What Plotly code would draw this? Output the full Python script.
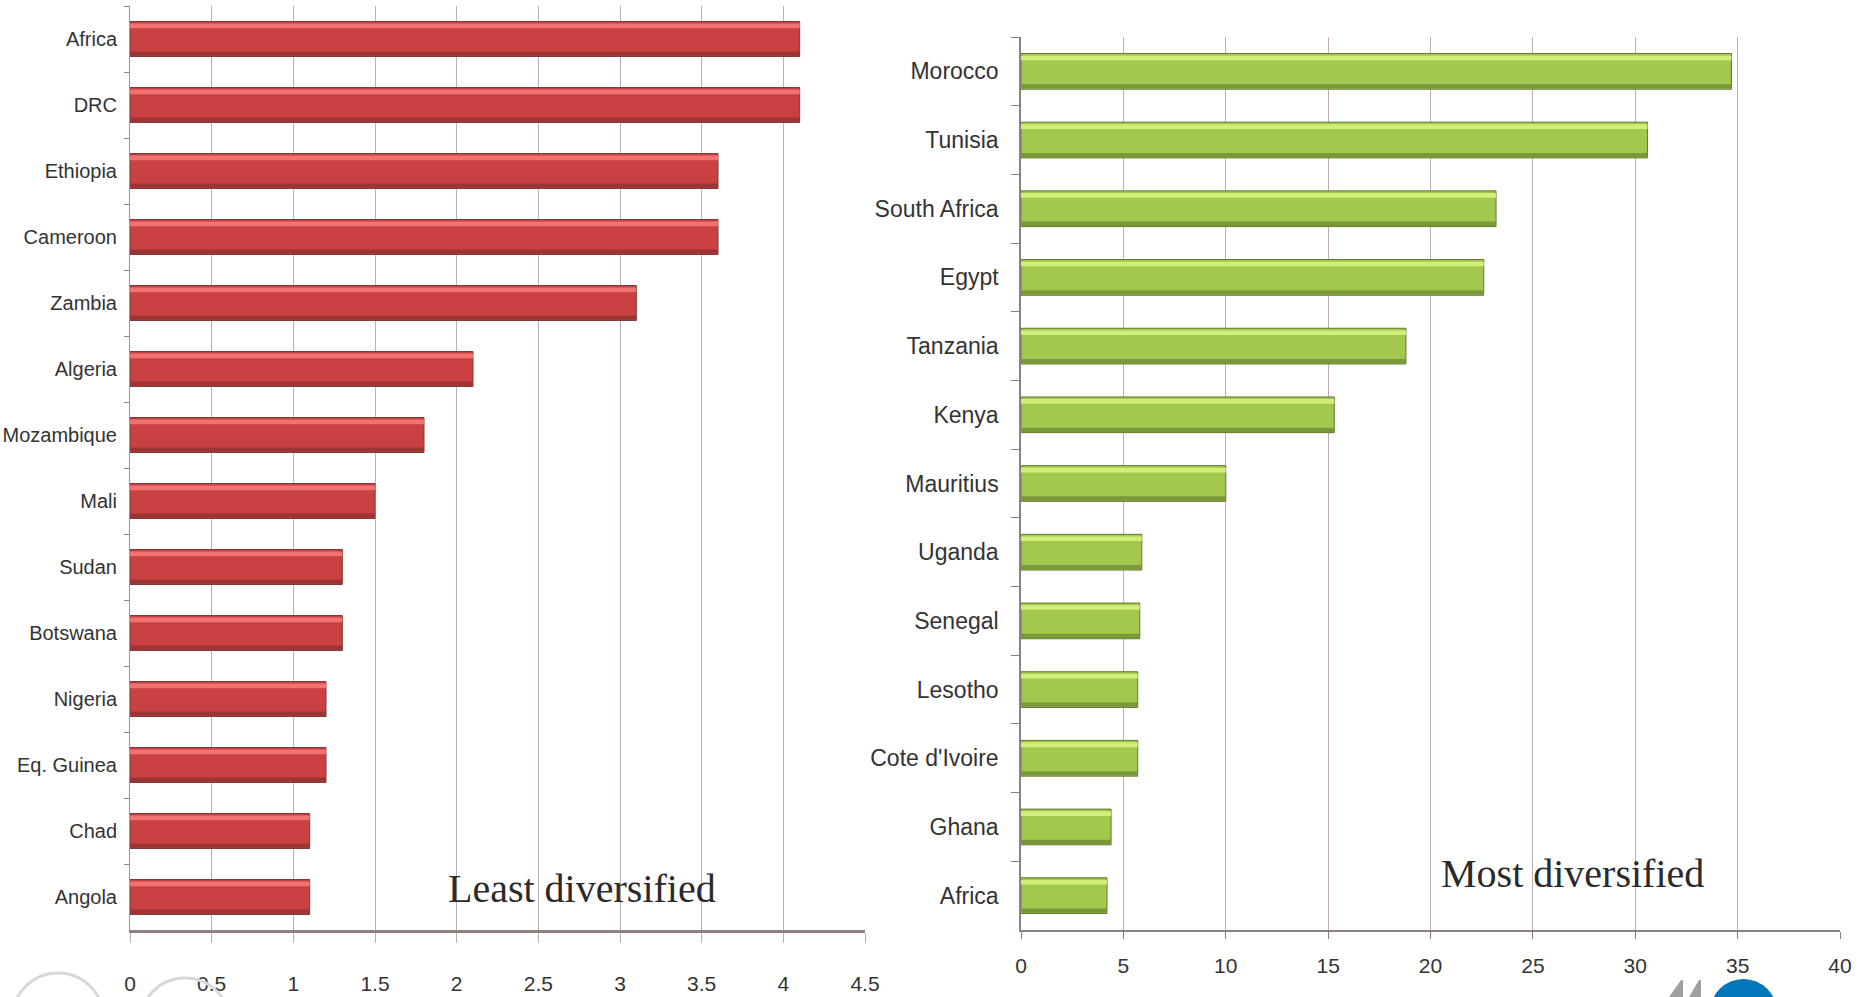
import plotly.graph_objects as go

# Least diversified economies (left panel), top to bottom
least_countries = ["Africa", "DRC", "Ethiopia", "Cameroon", "Zambia", "Algeria", "Mozambique",
                   "Mali", "Sudan", "Botswana", "Nigeria", "Eq. Guinea", "Chad", "Angola"]
least_values = [4.1, 4.1, 3.6, 3.6, 3.1, 2.1, 1.8, 1.5, 1.3, 1.3, 1.2, 1.2, 1.1, 1.1]
least_ticks = [0, 0.5, 1, 1.5, 2, 2.5, 3, 3.5, 4, 4.5]

# Most diversified economies (right panel), top to bottom
most_countries = ["Morocco", "Tunisia", "South Africa", "Egypt", "Tanzania", "Kenya", "Mauritius",
                  "Uganda", "Senegal", "Lesotho", "Cote d'Ivoire", "Ghana", "Africa"]
most_values = [34.7, 30.6, 23.2, 22.6, 18.8, 15.3, 10.0, 5.9, 5.8, 5.7, 5.7, 4.4, 4.2]
most_ticks = [0, 5, 10, 15, 20, 25, 30, 35, 40]

W, H = 1872, 997


def px_x(x):
    return x / W


def px_y(y):
    return 1 - y / H


GRID = "#bcaeb4"
AXIS = "#8c8080"
SANS = "Liberation Sans, Arial, sans-serif"
SERIF = "Liberation Serif, Times New Roman, serif"

fig = go.Figure()


def bevel_bars(values, cats, xa, ya, width, body, edge, light, dark):
    half = width / 2
    # main bar body
    fig.add_trace(go.Bar(
        x=values, y=cats, orientation="h", xaxis=xa, yaxis=ya,
        width=width, offset=-half, marker=dict(color=body, line=dict(color=edge, width=1)),
        showlegend=False, hoverinfo="x+y"))
    # upper highlight band
    fig.add_trace(go.Bar(
        x=values, y=cats, orientation="h", xaxis=xa, yaxis=ya,
        width=width * 0.13, offset=-half + width * 0.06,
        marker=dict(color=light, line=dict(width=0)), showlegend=False, hoverinfo="skip"))
    # lower shadow band
    fig.add_trace(go.Bar(
        x=values, y=cats, orientation="h", xaxis=xa, yaxis=ya,
        width=width * 0.12, offset=half - width * 0.14,
        marker=dict(color=dark, line=dict(width=0)), showlegend=False, hoverinfo="skip"))


bevel_bars(least_values, least_countries, "x", "y", 0.53,
           "#c94141", "#7e3a3a", "#f07272", "#9c3434")
bevel_bars(most_values, most_countries, "x2", "y2", 0.52,
           "#a2c84e", "#5f7a34", "#d2ee7a", "#78983a")

fig.update_layout(
    width=W, height=H,
    margin=dict(l=0, r=0, t=0, b=0),
    paper_bgcolor="white", plot_bgcolor="white",
    barmode="overlay",
    xaxis=dict(
        domain=[px_x(130), px_x(865)], anchor="y", range=[0, 4.5],
        tickvals=least_ticks, ticktext=[f"{v:g}" for v in least_ticks],
        showgrid=True, gridcolor=GRID, gridwidth=1, zeroline=False,
        showline=True, linecolor=AXIS, linewidth=2.5,
        ticks="outside", ticklen=10, tickcolor=GRID, tickwidth=1,
        ticklabelstandoff=23,
        tickfont=dict(family=SANS, size=21, color="#333333"),
        automargin=False, fixedrange=True),
    yaxis=dict(
        domain=[px_y(930), px_y(6)], anchor="x", type="category",
        categoryorder="array", categoryarray=least_countries,
        range=[len(least_countries) - 0.5, -0.5],
        showgrid=False, zeroline=False, showline=True, linecolor="#a09898", linewidth=1,
        ticks="outside", tickson="boundaries", ticklen=5, tickcolor=AXIS,
        ticklabelstandoff=8,
        tickfont=dict(family=SANS, size=20, color="#333333"),
        automargin=False, fixedrange=True),
    xaxis2=dict(
        domain=[px_x(1021), px_x(1840)], anchor="y2", range=[0, 40],
        tickvals=most_ticks, ticktext=[str(v) for v in most_ticks],
        showgrid=True, gridcolor=GRID, gridwidth=1, zeroline=False,
        showline=True, linecolor=AXIS, linewidth=1.5,
        ticks="outside", ticklen=7, tickcolor=AXIS, tickwidth=1,
        ticklabelstandoff=9,
        tickfont=dict(family=SANS, size=21, color="#333333"),
        automargin=False, fixedrange=True),
    yaxis2=dict(
        domain=[px_y(930), px_y(37)], anchor="x2", type="category",
        categoryorder="array", categoryarray=most_countries,
        range=[len(most_countries) - 0.5, -0.5],
        showgrid=False, zeroline=False, showline=True, linecolor=AXIS, linewidth=1.5,
        ticks="outside", tickson="boundaries", ticklen=8, tickcolor=AXIS,
        ticklabelstandoff=16,
        tickfont=dict(family=SANS, size=23, color="#333333"),
        automargin=False, fixedrange=True),
    annotations=[
        dict(text="Least diversified", x=px_x(582), y=px_y(888), xref="paper", yref="paper",
             xanchor="center", yanchor="middle", showarrow=False,
             font=dict(family=SERIF, size=40, color="#2a2a2a")),
        dict(text="Most diversified", x=px_x(1572), y=px_y(873), xref="paper", yref="paper",
             xanchor="center", yanchor="middle", showarrow=False,
             font=dict(family=SERIF, size=40, color="#2a2a2a")),
    ],
)

# logo fragments along the bottom edge
shapes = [
    dict(type="circle", xref="paper", yref="paper",
         x0=px_x(1710), x1=px_x(1777), y0=px_y(1046), y1=px_y(979),
         fillcolor="#0077bb", line=dict(width=0)),
    dict(type="path", xref="paper", yref="paper",
         path=f"M {px_x(1669)} {px_y(997)} L {px_x(1681)} {px_y(980)} L {px_x(1683)} {px_y(980)} "
              f"L {px_x(1683)} {px_y(997)} Z",
         fillcolor="#a0a0a0", line=dict(width=0)),
    dict(type="path", xref="paper", yref="paper",
         path=f"M {px_x(1689)} {px_y(997)} L {px_x(1699)} {px_y(980)} L {px_x(1701)} {px_y(980)} "
              f"L {px_x(1701)} {px_y(997)} Z",
         fillcolor="#a0a0a0", line=dict(width=0)),
    dict(type="circle", xref="paper", yref="paper",
         x0=px_x(12), x1=px_x(104), y0=px_y(1065), y1=px_y(973),
         fillcolor="rgba(0,0,0,0)", line=dict(color="#d8d8d8", width=3)),
    dict(type="circle", xref="paper", yref="paper",
         x0=px_x(140), x1=px_x(230), y0=px_y(1068), y1=px_y(978),
         fillcolor="rgba(0,0,0,0)", line=dict(color="#d8d8d8", width=3)),
]
fig.update_layout(shapes=shapes)

fig.write_html("out.html")
